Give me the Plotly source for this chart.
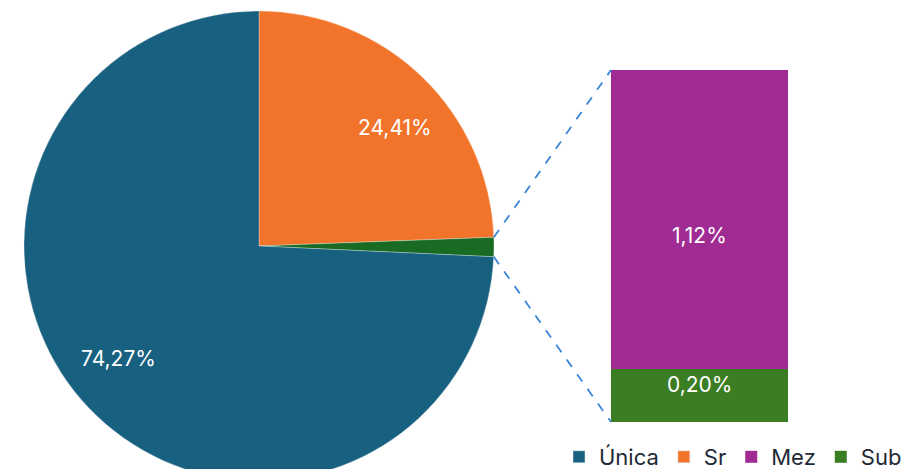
import math
import plotly.graph_objects as go

# ---- data ----
pie_labels = ["Sr", "Outros", "Única"]
pie_values = [24.41, 1.32, 74.27]
bar_labels = ["Sub", "Mez"]
bar_values = [0.20, 1.12]
legend_order = ["Única", "Sr", "Mez", "Sub"]

# ---- style ----
W, H = 907, 482
colors = {"Única": "#17607F", "Sr": "#F2742B", "Outros": "#196B24",
          "Mez": "#A02B93", "Sub": "#3B7D23"}
FONT = "Inter"
LBL = 21

cx, cy, R = 259, 246, 235          # pie geometry in px
bx0, bx1, by0, by1 = 611, 788, 70, 422  # bar box in px
bar_label_shift = {"Mez": -16, "Sub": 11}


def px(x):
    return x / W


def py(y):
    return 1 - y / H


def fmt(v):
    return f"{v:.2f}%".replace(".", ",")


fig = go.Figure()

fig.add_trace(go.Pie(
    labels=pie_labels, values=pie_values, sort=False, direction="clockwise",
    rotation=0, marker=dict(colors=[colors[l] for l in pie_labels],
                             line=dict(color="rgba(255,255,255,0.6)", width=0.5)),
    textinfo="none", showlegend=False, hoverinfo="label+percent",
    domain=dict(x=[px(cx - R), px(cx + R)], y=[py(cy + R), py(cy - R)]),
))

# legend-only entries for pie categories
for lab in ["Única", "Sr"]:
    fig.add_trace(go.Bar(x=[None], y=[None], name=lab, marker_color=colors[lab],
                         xaxis="x", yaxis="y", showlegend=True,
                         legendrank=legend_order.index(lab) + 1))

annotations = []
cum_b = 0
for lab, val in zip(bar_labels, bar_values):
    fig.add_trace(go.Bar(
        x=[0], y=[val], name=lab, marker=dict(color=colors[lab], line=dict(width=0)),
        width=1, xaxis="x", yaxis="y", showlegend=True,
        legendrank=legend_order.index(lab) + 1,
    ))
    annotations.append(dict(
        x=0, y=cum_b + val / 2, xref="x", yref="y", showarrow=False,
        text=fmt(val), yshift=bar_label_shift[lab],
        xanchor="center", yanchor="middle",
        font=dict(color="white", size=LBL, family=FONT),
    ))
    cum_b += val

# pie labels
total = sum(pie_values)
cum = 0
for lab, val in zip(pie_labels, pie_values):
    start = cum / total * 360
    cum += val
    end = cum / total * 360
    if lab == "Outros":
        continue
    ang = math.radians((start + end) / 2 + 5)
    r = 0.765 * R
    annotations.append(dict(
        x=px(cx + r * math.sin(ang)), y=py(cy - r * math.cos(ang)),
        xref="paper", yref="paper", showarrow=False,
        xanchor="center", yanchor="middle",
        text=fmt(val),
        font=dict(color="white", size=LBL, family=FONT),
    ))

# connector lines from the small slice to the bar
s_ang = math.radians(pie_values[0] / total * 360)
e_ang = math.radians((pie_values[0] + pie_values[1]) / total * 360)
p1 = (cx + R * math.sin(s_ang), cy - R * math.cos(s_ang))
p2 = (cx + R * math.sin(e_ang), cy - R * math.cos(e_ang))
shapes = []
for (x0, y0), (x1, y1) in [(p1, (bx0, by0)), (p2, (bx0, by1))]:
    shapes.append(dict(type="line", xref="paper", yref="paper",
                       x0=px(x0), y0=py(y0), x1=px(x1), y1=py(y1),
                       line=dict(color="#3A86D8", width=1.8, dash="dash")))

fig.update_layout(
    width=W, height=H, margin=dict(l=0, r=0, t=0, b=0),
    paper_bgcolor="white", plot_bgcolor="rgba(0,0,0,0)",
    barmode="stack", bargap=0,
    xaxis=dict(domain=[px(bx0), px(bx1)], range=[-0.5, 0.5], visible=False, fixedrange=True),
    yaxis=dict(domain=[py(by1), py(by0)], range=[0, sum(bar_values)], visible=False, fixedrange=True),
    legend=dict(orientation="h", x=1, xanchor="right", y=py(478), yanchor="bottom",
                font=dict(size=22, family=FONT, color="#1F2A36"),
                traceorder="normal", itemwidth=30, bgcolor="rgba(0,0,0,0)"),
    annotations=annotations, shapes=shapes,
    font=dict(family=FONT),
)

fig.write_html("out.html", config={"displayModeBar": False},
               post_script="document.body.style.margin='0';document.body.style.overflow='hidden';")
